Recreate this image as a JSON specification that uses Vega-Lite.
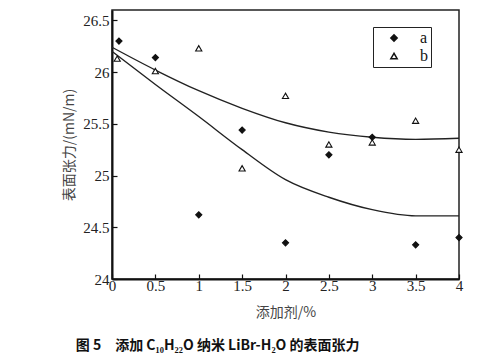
{
  "$schema": "https://vega.github.io/schema/vega-lite/v6.json",
  "autosize": "none",
  "width": 347,
  "height": 269,
  "padding": {"left": 112, "top": 10, "right": 37, "bottom": 78},
  "background": "white",
  "config": {
    "view": {"stroke": "#222", "strokeWidth": 1.5},
    "font": "Liberation Serif",
    "axis": {
      "grid": false,
      "domainColor": "#111",
      "domainWidth": 2,
      "tickColor": "#111",
      "tickSize": -5,
      "tickWidth": 1.2,
      "labelFont": "Liberation Serif",
      "labelFontSize": 15,
      "labelColor": "#222",
      "titleFont": "Noto Sans CJK SC",
      "titleFontWeight": "normal",
      "titleFontSize": 14,
      "titleColor": "#444"
    }
  },
  "title": {
    "text": "图 5　添加 C₁₀H₂₂O 纳米 LiBr-H₂O 的表面张力",
    "orient": "bottom",
    "anchor": "start",
    "offset": 20,
    "dx": 13,
    "font": "Noto Sans CJK SC",
    "fontSize": 14,
    "fontWeight": "bold",
    "color": "#111"
  },
  "datasets": {
    "pts": [
      {"x": 0.08, "y": 26.30, "s": "a"},
      {"x": 0.5, "y": 26.14, "s": "a"},
      {"x": 1.0, "y": 24.62, "s": "a"},
      {"x": 1.5, "y": 25.44, "s": "a"},
      {"x": 2.0, "y": 24.35, "s": "a"},
      {"x": 2.5, "y": 25.20, "s": "a"},
      {"x": 3.0, "y": 25.37, "s": "a"},
      {"x": 3.5, "y": 24.33, "s": "a"},
      {"x": 4.0, "y": 24.40, "s": "a"},
      {"x": 0.06, "y": 26.13, "s": "b"},
      {"x": 0.5, "y": 26.01, "s": "b"},
      {"x": 1.0, "y": 26.23, "s": "b"},
      {"x": 1.5, "y": 25.07, "s": "b"},
      {"x": 2.0, "y": 25.77, "s": "b"},
      {"x": 2.5, "y": 25.30, "s": "b"},
      {"x": 3.0, "y": 25.32, "s": "b"},
      {"x": 3.5, "y": 25.53, "s": "b"},
      {"x": 4.0, "y": 25.25, "s": "b"}
    ],
    "fit": [
      {"x": 0, "y": 26.20, "c": "a"},
      {"x": 0.5, "y": 25.88, "c": "a"},
      {"x": 1.0, "y": 25.57, "c": "a"},
      {"x": 1.5, "y": 25.25, "c": "a"},
      {"x": 2.0, "y": 24.96, "c": "a"},
      {"x": 2.5, "y": 24.79, "c": "a"},
      {"x": 3.0, "y": 24.67, "c": "a"},
      {"x": 3.5, "y": 24.61, "c": "a"},
      {"x": 4.0, "y": 24.61, "c": "a"},
      {"x": 0, "y": 26.24, "c": "b"},
      {"x": 0.5, "y": 26.02, "c": "b"},
      {"x": 1.0, "y": 25.82, "c": "b"},
      {"x": 1.5, "y": 25.65, "c": "b"},
      {"x": 2.0, "y": 25.51, "c": "b"},
      {"x": 2.5, "y": 25.42, "c": "b"},
      {"x": 3.0, "y": 25.37, "c": "b"},
      {"x": 3.5, "y": 25.35, "c": "b"},
      {"x": 4.0, "y": 25.36, "c": "b"}
    ]
  },
  "layer": [
    {
      "data": {"name": "fit"},
      "mark": {"type": "line", "color": "#222", "strokeWidth": 1.4, "interpolate": "monotone"},
      "encoding": {
        "x": {"field": "x", "type": "quantitative", "scale": {"domain": [0, 4]},
              "axis": {"values": [0, 0.5, 1, 1.5, 2, 2.5, 3, 3.5, 4], "format": "~g", "title": "添加剂/%", "labelPadding": 4, "titlePadding": 12, "labelFlush": false}},
        "y": {"field": "y", "type": "quantitative", "scale": {"domain": [24, 26.5]},
              "axis": {"values": [24, 24.5, 25, 25.5, 26, 26.5], "format": "~g", "title": "表面张力/(mN/m)", "labelPadding": 8, "titlePadding": 6, "labelFlush": false}},
        "detail": {"field": "c"}
      }
    },
    {
      "data": {"name": "pts"},
      "mark": {"type": "point", "stroke": "#111", "strokeWidth": 1.1, "opacity": 1, "filled": false, "size": 38},
      "encoding": {
        "x": {"field": "x", "type": "quantitative"},
        "y": {"field": "y", "type": "quantitative"},
        "shape": {"field": "s", "type": "nominal",
                  "scale": {"domain": ["a", "b"], "range": ["diamond", "triangle-up"]},
                  "legend": {"title": null, "orient": "none", "legendX": 261, "legendY": 17,
                             "strokeColor": "#222", "fillColor": "white", "padding": 3,
                             "labelFont": "Liberation Serif", "labelFontSize": 16, "labelColor": "#111",
                             "labelOffset": 18, "symbolOffset": 10, "rowPadding": 2, "symbolSize": 40,
                             "labelExpr": "datum.label + '      '",
                             "encode": {"symbols": {"update": {
                               "fill": {"signal": "datum.value === 'a' ? '#111' : 'white'"},
                               "stroke": {"value": "#111"},
                               "strokeWidth": {"value": 1.1}}}}}},
        "fill": {"field": "s", "type": "nominal",
                 "scale": {"domain": ["a", "b"], "range": ["#111", "white"]},
                 "legend": null}
      }
    }
  ]
}
